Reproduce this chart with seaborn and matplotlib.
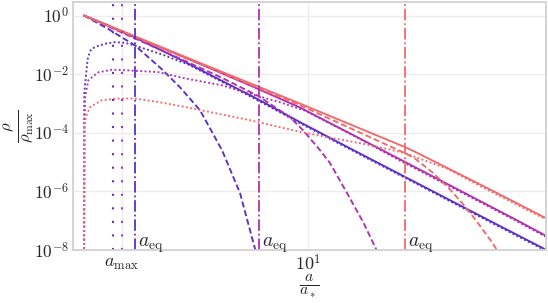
import matplotlib
matplotlib.use("Agg")
import matplotlib.pyplot as plt
import matplotlib.ticker as mticker
import seaborn as sns
import pandas as pd
import numpy as np

# valores (a / a_*, rho / rho_max)
purple_solid_a = [1.0, 1.280, 1.689, 2.683, 5.982, 9.211, 15.88, 62.98, 115.5]
purple_solid_rho = [1.0, 0.457, 0.1786, 0.0319, 1.39e-3, 2.30e-4, 2.60e-5, 1.11e-7, 1.02e-8]
purple_dashed_a = [1.0, 1.280, 1.689, 2.207, 2.683, 3.295, 4.131, 4.970, 5.800, 5.92]
purple_dashed_rho = [1.0, 0.353, 0.0954, 0.0157, 3.56e-3, 5.87e-4, 2.56e-5, 8.83e-7, 1.10e-8, 4.6e-9]
purple_dotted_a = [1.001, 1.003, 1.0103, 1.0208, 1.0345, 1.042, 1.069, 1.116, 1.237, 1.371,
                   1.519, 1.684, 1.866, 2.293, 2.683, 2.912, 5.623, 9.211, 19.31, 62.98, 115.5]
purple_dotted_rho = [1e-9, 2.22e-3, 4.5e-3, 9.1e-3, 0.025, 0.0372, 0.0645, 0.0835, 0.1089, 0.1236,
                     0.1179, 0.0954, 0.0737, 0.0436, 0.0272, 0.0216, 1.63e-3, 2.12e-4, 1.11e-5, 1.02e-7, 9.4e-9]

magenta_solid_a = [1.0, 2.825, 6.04, 9.211, 25.75, 83.99, 115.5]
magenta_solid_rho = [1.0, 0.0372, 3.04e-3, 7.26e-4, 1.24e-5, 1.12e-7, 3.04e-8]
magenta_dashed_a = [1.0, 2.825, 4.131, 6.025, 8.310, 9.499, 11.31, 12.54, 14.93, 17.61, 20.12, 20.54]
magenta_dashed_rho = [1.0, 0.0283, 7.5e-3, 1.76e-3, 3.4e-4, 1.225e-4, 2.56e-5, 9.25e-6, 8.83e-7, 9.1e-8, 1.10e-8, 5.4e-9]
magenta_dotted_a = [1.001, 1.005, 1.0103, 1.045, 1.155, 1.334, 1.572, 2.140, 2.825, 4.131,
                    6.025, 7.499, 9.696, 15.40, 25.75, 83.99, 115.5]
magenta_dotted_rho = [1e-9, 2.68e-4, 1.63e-3, 6.15e-3, 0.01151, 0.01422, 0.01346, 0.01178, 7.2e-3, 4.16e-3,
                      1.76e-3, 1.10e-3, 5.65e-4, 9.3e-5, 1.12e-5, 1.04e-7, 2.81e-8]

red_solid_a = [1.0, 3.295, 9.211, 27.10, 30.05, 38.85, 59.82, 115.5]
red_solid_rho = [1.0, 0.0242, 9.93e-4, 3.24e-5, 2.24e-5, 8.4e-6, 1.60e-6, 1.22e-7]
red_dashed_a = [1.0, 2.825, 9.211, 27.10, 30.05, 35.78, 42.17, 48.70, 56.23, 64.94, 69.80, 71.25]
red_dashed_rho = [1.0, 0.0358, 8.69e-4, 2.02e-5, 1.32e-5, 4.57e-6, 1.39e-6, 4.06e-7, 1.03e-7, 2.28e-8, 1.0e-8, 6.0e-9]
red_dotted_a = [1.0005, 1.003, 1.0176, 1.0636, 1.199, 1.418, 1.689, 2.140, 2.825, 5.510,
                9.211, 18.92, 27.10, 42.17, 59.82, 115.5]
red_dotted_rho = [1e-9, 1.55e-4, 3.40e-4, 7.43e-4, 1.285e-3, 1.469e-3, 1.469e-3, 1.125e-3, 7.6e-4, 2.68e-4,
                  1.073e-4, 3.79e-5, 2.02e-5, 5.78e-6, 1.41e-6, 1.11e-7]

a_eq = {"purple": 1.689, "magenta": 6.025, "red": 27.03}
a_max = {"purple": 1.347, "magenta": 1.473}

colores = {"purple": "#5b2fc6", "magenta": "#b02fb0", "red": "#f0696b"}

# tabla larga para seaborn
curvas = {
    ("purple", "solid"): (purple_solid_a, purple_solid_rho),
    ("purple", "dashed"): (purple_dashed_a, purple_dashed_rho),
    ("purple", "dotted"): (purple_dotted_a, purple_dotted_rho),
    ("magenta", "solid"): (magenta_solid_a, magenta_solid_rho),
    ("magenta", "dashed"): (magenta_dashed_a, magenta_dashed_rho),
    ("magenta", "dotted"): (magenta_dotted_a, magenta_dotted_rho),
    ("red", "solid"): (red_solid_a, red_solid_rho),
    ("red", "dashed"): (red_dashed_a, red_dashed_rho),
    ("red", "dotted"): (red_dotted_a, red_dotted_rho),
}
filas = []
for (modelo, tipo), (xs, ys) in curvas.items():
    for x, y in zip(xs, ys):
        filas.append({"a": x, "rho": y, "modelo": modelo, "tipo": tipo})
df = pd.DataFrame(filas)

sns.set_theme(style="whitegrid", rc={"grid.color": ".93", "axes.edgecolor": ".82",
                                     "axes.linewidth": 1.3})
plt.rcParams["mathtext.fontset"] = "cm"

fig = plt.figure(figsize=(5.48, 3.03), dpi=100)
ax = fig.add_axes([73 / 548, 53 / 303, 473 / 548, 248 / 303])
ax.set_xscale("log")
ax.set_yscale("log")

sns.lineplot(data=df, x="a", y="rho", hue="modelo", style="tipo",
             hue_order=["purple", "magenta", "red"], palette=colores,
             style_order=["solid", "dashed", "dotted"],
             dashes={"solid": "", "dashed": (3.2, 1.6), "dotted": (1, 1.3)},
             estimator=None, sort=False, legend=False, linewidth=1.35, ax=ax)

for m, x in a_eq.items():
    ax.axvline(x, color=colores[m], linestyle="-.", linewidth=1.3)
    ax.text(x * 1.031, 1.28e-8, r"$a_{\rm eq}$", fontsize=14, va="baseline", ha="left")
for m, x in a_max.items():
    ax.axvline(x, color=colores[m], linestyle=(0, (1, 5.5)), linewidth=1.5)

ax.set_xlim(0.893, 115.5)
ax.set_ylim(1e-8, 2.9)

ax.set_xticks([a_max["magenta"], 10], labels=[r"$a_{\max}$", r"$10^1$"])
ax.xaxis.set_minor_locator(mticker.NullLocator())
ax.set_yticks([1e-8, 1e-6, 1e-4, 1e-2, 1],
              labels=[r"$10^{-8}$", r"$10^{-6}$", r"$10^{-4}$", r"$10^{-2}$", r"$10^{0}$"])
ax.yaxis.set_minor_locator(mticker.NullLocator())
ax.tick_params(axis="both", length=0, pad=3)
ax.tick_params(axis="y", labelsize=12.5)
ax.tick_params(axis="x", labelsize=13)

ax.set_xlabel(r"$\frac{a}{a_*}$", fontsize=16)
ax.set_ylabel(r"$\frac{\rho}{\rho_{\max}}$", fontsize=17)
ax.xaxis.set_label_coords(0.5, -0.09)
ax.yaxis.set_label_coords(-0.08, 0.5)

fig.savefig("out.png", dpi=100)
